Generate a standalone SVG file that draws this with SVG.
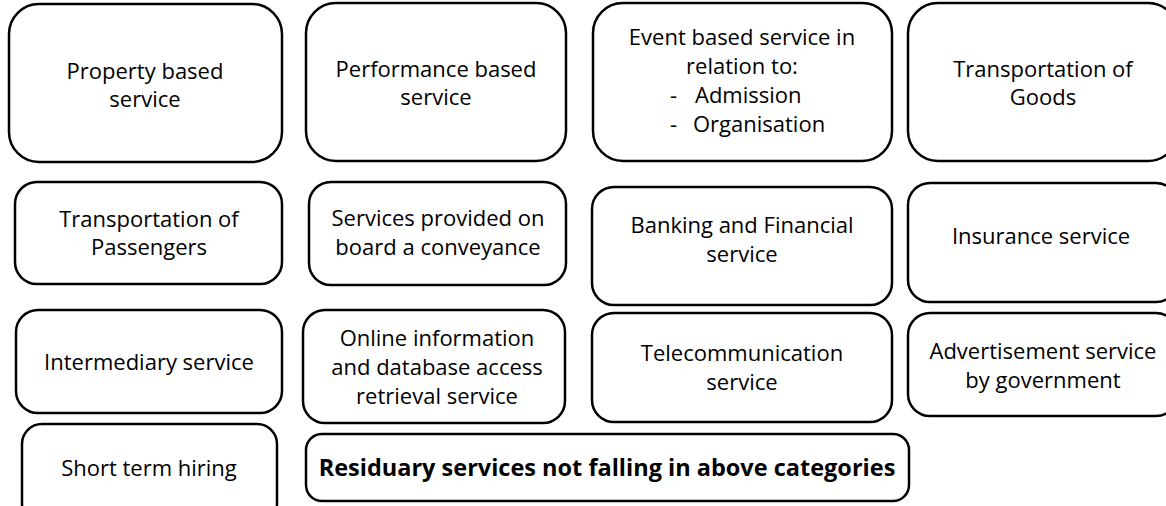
<svg xmlns="http://www.w3.org/2000/svg" width="1166" height="506" viewBox="0 0 1166 506">
<style>
.box{fill:#fff;stroke:#000;stroke-width:2.5}
.t{font-family:"Open Sans","Noto Sans","Liberation Sans",sans-serif;font-size:22px;fill:#000;text-anchor:middle}
.b{font-weight:bold;font-size:23.5px}
</style>
<rect width="1166" height="506" fill="#fff"/>
<g id="connectors"></g>
<g id="property"><rect class="box" x="9" y="4" width="273" height="158" rx="30"/><text class="t" x="145" y="79">Property based</text><text class="t" x="145" y="107">service</text></g>
<g id="performance"><rect class="box" x="306" y="3" width="260" height="158" rx="30"/><text class="t" x="436" y="77">Performance based</text><text class="t" x="436" y="105">service</text></g>
<g id="event"><rect class="box" x="593" y="3" width="299" height="158" rx="30"/><text class="t" x="742" y="45">Event based service in</text><text class="t" x="742" y="74">relation to:</text><text class="t" style="text-anchor:start" y="103"><tspan x="670">-</tspan><tspan x="695">Admission</tspan></text><text class="t" style="text-anchor:start" y="132"><tspan x="670">-</tspan><tspan x="693">Organisation</tspan></text></g>
<g id="goods"><rect class="box" x="908" y="3" width="270" height="158" rx="30"/><text class="t" x="1043" y="77">Transportation of</text><text class="t" x="1043" y="105">Goods</text></g>
<g id="passengers"><rect class="box" x="15" y="182" width="267" height="102" rx="22"/><text class="t" x="149" y="227">Transportation of</text><text class="t" x="149" y="255">Passengers</text></g>
<g id="onboard"><rect class="box" x="309" y="182" width="257" height="103" rx="22"/><text class="t" x="438" y="226">Services provided on</text><text class="t" x="438" y="255">board a conveyance</text></g>
<g id="banking"><rect class="box" x="592" y="187" width="300" height="118" rx="22"/><text class="t" x="742" y="233">Banking and Financial</text><text class="t" x="742" y="262">service</text></g>
<g id="insurance"><rect class="box" x="908" y="183" width="270" height="119" rx="22"/><text class="t" x="1041" y="244">Insurance service</text></g>
<g id="intermediary"><rect class="box" x="16" y="310" width="266" height="103" rx="22"/><text class="t" x="149" y="370">Intermediary service</text></g>
<g id="online"><rect class="box" x="303" y="310" width="262" height="113" rx="22"/><text class="t" x="437" y="346">Online information</text><text class="t" x="437" y="375">and database access</text><text class="t" x="437" y="404">retrieval service</text></g>
<g id="telecom"><rect class="box" x="592" y="313" width="300" height="109" rx="22"/><text class="t" x="742" y="361">Telecommunication</text><text class="t" x="742" y="390">service</text></g>
<g id="advertisement"><rect class="box" x="908" y="313" width="270" height="103" rx="22"/><text class="t" x="1043" y="359">Advertisement service</text><text class="t" x="1043" y="388">by government</text></g>
<g id="shortterm"><rect class="box" x="22" y="424" width="255" height="100" rx="20"/><text class="t" x="149" y="476">Short term hiring</text></g>
<g id="residuary"><rect class="box" x="306" y="434" width="603" height="67" rx="16"/><text class="t b" x="607" y="476">Residuary services not falling in above categories</text></g>
</svg>
